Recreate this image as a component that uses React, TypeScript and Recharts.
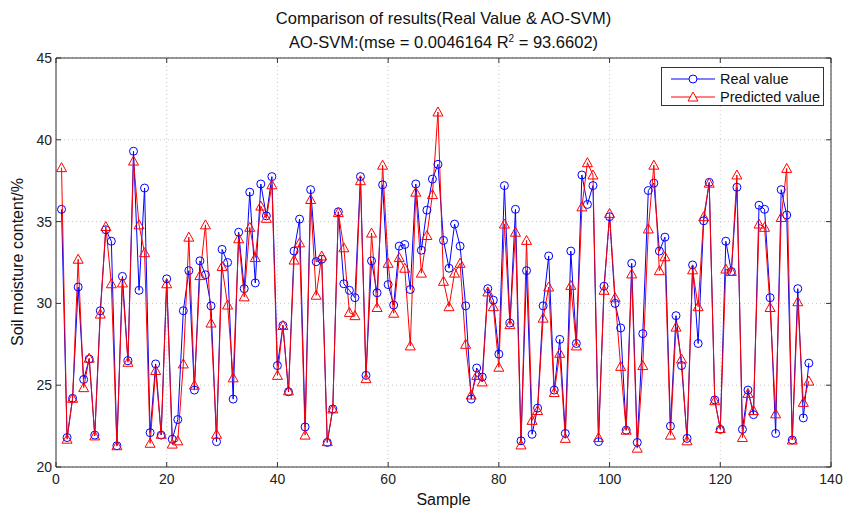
import React from "react";
import { LineChart, Line, XAxis, YAxis, CartesianGrid, ReferenceLine } from "recharts";

const realValue = [
  35.75, 21.8, 24.2, 31.0, 25.35, 26.6, 21.95, 29.55, 34.5, 33.8,
  21.3, 31.65, 26.5, 39.3, 30.8, 37.05, 22.1, 26.3, 21.95, 31.5,
  21.7, 22.9, 29.55, 32.0, 24.7, 32.6, 31.75, 29.85, 21.55, 33.3,
  32.5, 24.15, 34.35, 30.9, 36.8, 31.25, 37.3, 35.35, 37.75, 26.2,
  28.65, 24.6, 33.2, 35.15, 22.45, 36.95, 32.55, 32.7, 21.5, 23.55,
  35.6, 31.2, 30.8, 30.35, 37.75, 25.6, 32.6, 30.65, 37.25, 31.15,
  29.9, 33.5, 33.6, 30.85, 37.3, 33.25, 35.7, 37.6, 38.5, 33.85,
  32.15, 34.85, 33.5, 29.85, 24.15, 26.05, 25.5, 30.9, 30.2, 26.9,
  37.2, 28.8, 35.75, 21.6, 32.0, 22.0, 23.6, 29.85, 32.9, 24.7,
  27.8, 22.05, 33.2, 27.55, 37.85, 36.05, 37.2, 21.55, 31.05, 35.3,
  30.0, 28.5, 22.25, 32.45, 21.5, 28.15, 36.9, 37.35, 33.2, 34.05,
  22.5, 29.25, 26.2, 21.75, 32.35, 27.55, 35.05, 37.4, 24.1, 22.3,
  33.8, 31.95, 37.1, 22.3, 24.7, 23.2, 36.0, 35.75, 30.35, 22.05,
  36.95, 35.4, 21.65, 30.9, 23.0, 26.35,
];

const predictedValue = [
  38.3, 21.7, 24.2, 32.7, 24.85, 26.65, 21.9, 29.35, 34.7, 31.2,
  21.3, 31.25, 26.4, 38.7, 34.8, 33.1, 21.45, 25.9, 22.0, 31.2,
  21.4, 21.6, 26.3, 34.05, 25.0, 31.7, 34.8, 28.8, 22.0, 32.25,
  29.9, 25.45, 33.95, 30.4, 34.65, 32.8, 35.95, 35.2, 37.25, 25.6,
  28.65, 24.65, 32.65, 33.7, 21.95, 36.35, 30.5, 32.9, 21.55, 23.55,
  35.55, 33.4, 29.45, 29.25, 37.5, 25.4, 34.3, 29.75, 38.45, 32.45,
  29.4, 32.8, 32.15, 27.4, 36.8, 31.85, 34.15, 36.65, 41.7, 31.35,
  29.8, 31.85, 32.45, 27.5, 24.4, 25.6, 25.2, 30.7, 29.8, 26.1,
  34.85, 28.7, 34.35, 21.35, 33.85, 22.85, 23.45, 29.1, 31.0, 24.55,
  26.95, 21.75, 31.1, 27.4, 35.9, 38.6, 37.85, 21.8, 30.8, 35.5,
  30.35, 26.15, 22.25, 31.8, 21.15, 26.2, 34.55, 38.45, 32.0, 32.85,
  21.95, 28.55, 26.6, 21.6, 32.05, 29.8, 35.3, 37.35, 24.05, 22.35,
  32.1, 31.95, 37.85, 21.8, 24.5, 23.45, 34.85, 34.65, 29.75, 23.25,
  35.25, 38.25, 21.65, 30.1, 23.95, 25.25,
];

const xTicks = [0, 20, 40, 60, 80, 100, 120, 140];
const yTicks = [20, 25, 30, 35, 40, 45];

const data = realValue.map((v, i) => ({
  sample: i + 1,
  real: v,
  predicted: predictedValue[i],
}));

const FONT = '"Liberation Sans", Arial, Helvetica, sans-serif';
const AXIS = "#333";
const BLUE = "#0000ff";
const RED = "#ff0000";

// plot box edges (used for the mirrored tick marks on top/right)
const PLOT_TOP = 58;
const PLOT_RIGHT = 831;

const XTick = (props: any) => {
  const { x, y, payload } = props;
  return (
    <g>
      <line x1={x} y1={y} x2={x} y2={y - 5} stroke={AXIS} />
      <line x1={x} y1={PLOT_TOP} x2={x} y2={PLOT_TOP + 5} stroke={AXIS} />
      <text x={x} y={y + 17} textAnchor="middle" fontSize={14} fontFamily={FONT} fill="#222">
        {payload.value}
      </text>
    </g>
  );
};

const YTick = (props: any) => {
  const { x, y, payload } = props;
  return (
    <g>
      <line x1={x} y1={y} x2={x + 5} y2={y} stroke={AXIS} />
      <line x1={PLOT_RIGHT} y1={y} x2={PLOT_RIGHT - 5} y2={y} stroke={AXIS} />
      <text x={x - 4} y={y + 5} textAnchor="end" fontSize={14} fontFamily={FONT} fill="#222">
        {payload.value}
      </text>
    </g>
  );
};

const Triangle = (props: any) => {
  const { cx, cy, index } = props;
  if (cx == null || cy == null) return <g key={index} />;
  return (
    <polygon
      key={index}
      points={`${cx},${cy - 5} ${cx - 5},${cy + 4} ${cx + 5},${cy + 4}`}
      fill="none"
      stroke={RED}
      strokeWidth={1}
    />
  );
};

const legendItems = [
  { name: "Real value", color: BLUE, shape: "circle" },
  { name: "Predicted value", color: RED, shape: "triangle" },
];

export default function App() {
  return (
    <div style={{ position: "absolute", left: 0, top: 0, width: 845, height: 514, background: "#fff", fontFamily: FONT }}>
      <div style={{ position: "absolute", left: 56, width: 775, top: 6, textAlign: "center", fontSize: 16.5, lineHeight: "24px", color: "#111" }}>
        <div>Comparison of results(Real Value &amp; AO-SVM)</div>
        <div>
          AO-SVM:(mse = 0.0046164 R<sup style={{ fontSize: 10, verticalAlign: "6px", lineHeight: 0 }}>2</sup> = 93.6602)
        </div>
      </div>

      <LineChart width={845} height={514} data={data} margin={{ top: 58, right: 14, bottom: 0, left: 0 }}>
        <CartesianGrid stroke="#c8c8c8" strokeDasharray="1 3" />
        <XAxis
          dataKey="sample"
          type="number"
          domain={[0, 140]}
          ticks={xTicks}
          height={47}
          tickSize={0}
          tickMargin={0}
          tickLine={false}
          axisLine={{ stroke: AXIS }}
          tick={<XTick />}
          label={{ value: "Sample", position: "insideBottom", offset: 9, fontSize: 16, fontFamily: FONT, fill: "#111" }}
        />
        <YAxis
          type="number"
          domain={[20, 45]}
          ticks={yTicks}
          width={56}
          tickSize={0}
          tickMargin={0}
          tickLine={false}
          axisLine={{ stroke: AXIS }}
          tick={<YTick />}
          allowDataOverflow
        />
        <ReferenceLine y={45} stroke={AXIS} />
        <ReferenceLine x={140} stroke={AXIS} />
        <Line
          dataKey="real"
          stroke={BLUE}
          strokeWidth={1}
          dot={{ r: 4, stroke: BLUE, fill: "none", strokeWidth: 1 }}
          isAnimationActive={false}
        />
        <Line
          dataKey="predicted"
          stroke={RED}
          strokeWidth={1}
          dot={<Triangle />}
          isAnimationActive={false}
        />
      </LineChart>

      <div
        style={{
          position: "absolute",
          left: 18,
          top: 262,
          transform: "translate(-50%, -50%) rotate(-90deg)",
          whiteSpace: "nowrap",
          fontSize: 16,
          color: "#111",
        }}
      >
        Soil moisture content/%
      </div>

      <div
        style={{
          position: "absolute",
          left: 661,
          top: 67,
          width: 161,
          height: 37,
          border: "1px solid #333",
          background: "#fff",
          fontSize: 14.5,
          color: "#111",
        }}
      >
        {legendItems.map((item, i) => (
          <div key={item.name} style={{ position: "absolute", left: 8, top: 2 + i * 18, height: 18, display: "flex", alignItems: "center" }}>
            <svg width={46} height={14}>
              <line x1={1} y1={7} x2={45} y2={7} stroke={item.color} />
              {item.shape === "circle" ? (
                <circle cx={23} cy={7} r={4} fill="#fff" stroke={item.color} />
              ) : (
                <polygon points="23,2 18,11 28,11" fill="#fff" stroke={item.color} />
              )}
            </svg>
            <span style={{ marginLeft: 4 }}>{item.name}</span>
          </div>
        ))}
      </div>
    </div>
  );
}
